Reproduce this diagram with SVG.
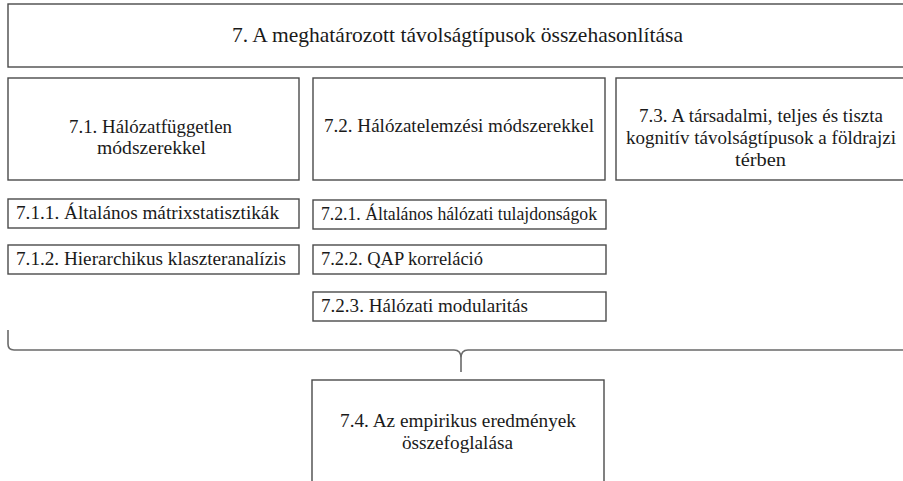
<svg xmlns="http://www.w3.org/2000/svg" width="903" height="481" viewBox="0 0 903 481">
<style>
.box{fill:#ffffff;stroke:#4a4a4a;stroke-width:1.4}
.t{font-family:"Liberation Serif","DejaVu Serif",serif;fill:#1a1a1a;font-size:18.5px}
.c{text-anchor:middle}
.title{font-size:21px}
.brace{fill:none;stroke:#6a6a6a;stroke-width:1.6}
</style>
<rect width="903" height="481" fill="#ffffff"/>
<g id="n7">
<rect class="box" x="8" y="4" width="898" height="63"/>
<text class="t c title" x="457.5" y="41.5" textLength="451" lengthAdjust="spacingAndGlyphs">7. A meghatározott távolságtípusok összehasonlítása</text>
</g>
<g id="n7_1">
<rect class="box" x="8" y="78" width="291" height="102"/>
<text class="t c" x="150.5" y="132.5" textLength="163" lengthAdjust="spacingAndGlyphs">7.1. Hálózatfüggetlen</text>
<text class="t c" x="151.5" y="154" textLength="109" lengthAdjust="spacingAndGlyphs">módszerekkel</text>
</g>
<g id="n7_2">
<rect class="box" x="313" y="78" width="292" height="102"/>
<text class="t c" x="459" y="131.5" textLength="270" lengthAdjust="spacingAndGlyphs">7.2. Hálózatelemzési módszerekkel</text>
</g>
<g id="n7_3">
<rect class="box" x="616" y="78" width="292" height="102"/>
<text class="t c" x="761" y="122" textLength="244" lengthAdjust="spacingAndGlyphs">7.3. A társadalmi, teljes és tiszta</text>
<text class="t c" x="761" y="144" textLength="270" lengthAdjust="spacingAndGlyphs">kognitív távolságtípusok a földrajzi</text>
<text class="t c" x="760.5" y="165.5" textLength="51" lengthAdjust="spacingAndGlyphs">térben</text>
</g>
<g id="n7_1_1">
<rect class="box" x="8" y="199" width="291" height="29"/>
<text class="t" x="16" y="219" textLength="263" lengthAdjust="spacingAndGlyphs">7.1.1. Általános mátrixstatisztikák</text>
</g>
<g id="n7_1_2">
<rect class="box" x="8" y="245" width="291" height="29"/>
<text class="t" x="16" y="265" textLength="270" lengthAdjust="spacingAndGlyphs">7.1.2. Hierarchikus klaszteranalízis</text>
</g>
<g id="n7_2_1">
<rect class="box" x="313" y="200" width="293" height="29"/>
<text class="t" x="321" y="219.5" textLength="276" lengthAdjust="spacingAndGlyphs">7.2.1. Általános hálózati tulajdonságok</text>
</g>
<g id="n7_2_2">
<rect class="box" x="313" y="245" width="293" height="29"/>
<text class="t" x="321" y="265" textLength="162" lengthAdjust="spacingAndGlyphs">7.2.2. QAP korreláció</text>
</g>
<g id="n7_2_3">
<rect class="box" x="313" y="292" width="293" height="29"/>
<text class="t" x="321" y="312" textLength="207" lengthAdjust="spacingAndGlyphs">7.2.3. Hálózati modularitás</text>
</g>
<g id="n7_4">
<rect class="box" x="312" y="380" width="292" height="110"/>
<text class="t c" x="458" y="426.5" textLength="236" lengthAdjust="spacingAndGlyphs">7.4. Az empirikus eredmények</text>
<text class="t c" x="457.5" y="448.5" textLength="111" lengthAdjust="spacingAndGlyphs">összefoglalása</text>
</g>
<g id="connectors">
<path class="brace" d="M8,330 V344 Q8,350 14,350 H454 Q461,350 461,358 V372 M461,358 Q461,350 468,350 H910"/>
</g>
</svg>
